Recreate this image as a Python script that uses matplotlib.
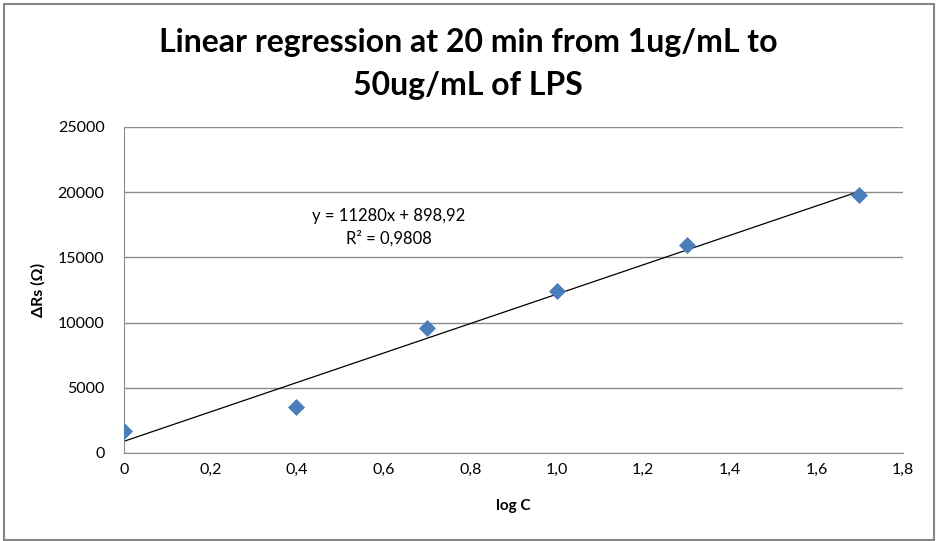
import matplotlib.pyplot as plt
from matplotlib.patches import Rectangle
from matplotlib.ticker import FuncFormatter
import numpy as np

# data
log_c = [0, 0.398, 0.699, 1.0, 1.301, 1.699]
delta_rs = [1650, 3550, 9550, 12400, 15950, 19800]

# trendline as printed on the chart
slope = 11280
intercept = 898.92
r2_text = "R² = 0,9808"

plt.rcParams['font.family'] = ['Lato', 'DejaVu Sans']

fig = plt.figure(figsize=(9.36, 5.41), dpi=100)
ax = fig.add_axes([124 / 936, 1 - 453 / 541, (903 - 124) / 936, (453 - 127) / 541])

# outer chart border
fig.patches.append(Rectangle((4 / 936, 0.002), 930 / 936, 1 - 4 / 541 - 0.002,
                             transform=fig.transFigure, fill=False,
                             edgecolor='#868686', linewidth=1.5))

ax.scatter(log_c, delta_rs, marker='D', s=75, color='#4a7ebb', zorder=3,
           linewidths=0)

x_fit = np.array([0, max(log_c)])
ax.plot(x_fit, slope * x_fit + intercept, color='black', linewidth=0.9, zorder=2)

ax.set_xlim(0, 1.8)
ax.set_ylim(0, 25000)
ax.set_xticks(np.arange(0, 1.81, 0.2))
ax.set_yticks(range(0, 25001, 5000))
ax.xaxis.set_major_formatter(FuncFormatter(
    lambda v, p: '0' if abs(v) < 1e-9 else f'{v:.1f}'.replace('.', ',')))

ax.grid(axis='y', color='#8c8c8c', linewidth=1)
ax.set_axisbelow(True)
for s in ['top', 'right']:
    ax.spines[s].set_visible(False)
for s in ['left', 'bottom']:
    ax.spines[s].set_color('#8c8c8c')
ax.tick_params(length=0, labelsize=11.5, colors='black')
ax.tick_params(axis='x', pad=7)
ax.tick_params(axis='y', pad=14)

ax.set_xlabel('log C', fontsize=11, fontweight='bold', labelpad=16)
ax.set_ylabel('ΔRs (Ω)', fontsize=11.5, fontweight='bold', labelpad=9)

fig.text(0.5, 0.882, 'Linear regression at 20 min from 1ug/mL to\n50ug/mL of LPS',
         ha='center', va='center', fontsize=23, fontweight='bold',
         linespacing=1.6)

ax.text(0.34, 0.692, f'y = {slope}x + {str(intercept).replace(".", ",")}\n{r2_text}',
        transform=ax.transAxes, ha='center', va='center', fontsize=12,
        linespacing=1.5)

fig.savefig('out.png', dpi=100)
